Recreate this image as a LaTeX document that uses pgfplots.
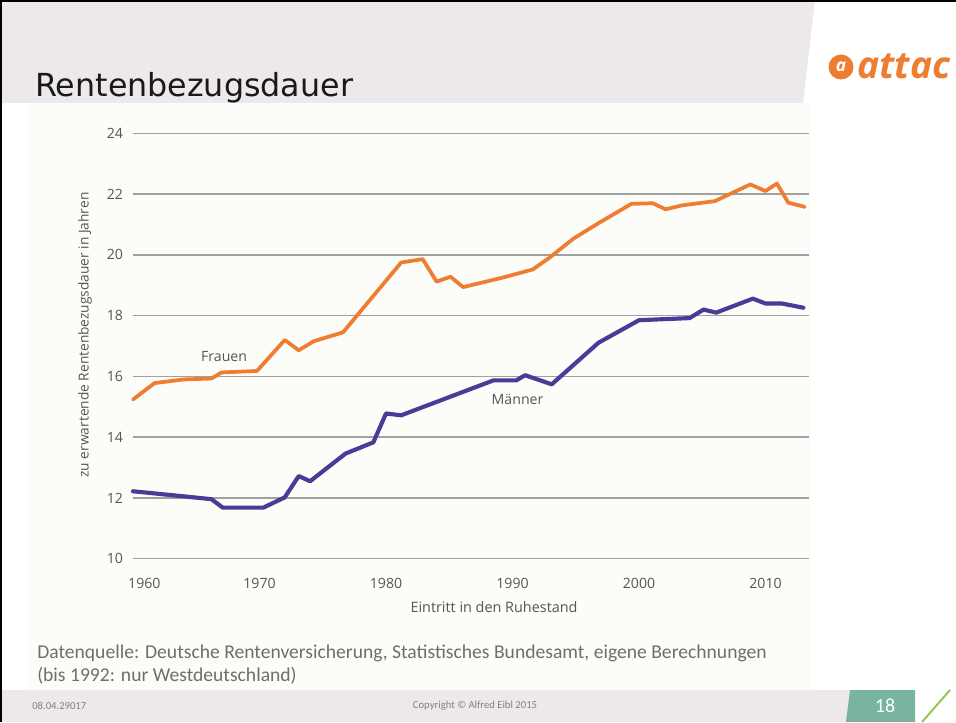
\documentclass[border=0pt]{standalone}
\usepackage{pgfplots}
\pgfplotsset{compat=1.18}
\usepackage{fontspec}
\setmainfont{Open Sans}
\newfontfamily\titlefont{DejaVu Sans}
\newfontfamily\calfont{Carlito}
\definecolor{fr}{RGB}{238,125,49}
\definecolor{ma}{RGB}{76,58,150}
\definecolor{gridc}{RGB}{160,160,160}
\definecolor{band}{RGB}{237,232,235}
\definecolor{chartbg}{RGB}{252,252,249}
\definecolor{txt}{RGB}{85,85,85}
\definecolor{srctxt}{RGB}{110,110,110}
\definecolor{tealc}{RGB}{120,180,160}
\definecolor{greenc}{RGB}{150,200,80}
\begin{document}
\begin{tikzpicture}[x=0.75pt,y=0.75pt]
\clip (0,0) rectangle (956,722);
\fill[white] (0,0) rectangle (956,722);
% top band
\fill[band] (0,722) -- (815,722) -- (803,619) -- (0,619) -- cycle;
% chart background
\fill[chartbg] (28,619) rectangle (810,32);
% footer
\fill[band] (0,0) rectangle (956,32);
\fill[white] (915,0) rectangle (956,32);
\fill[tealc] (850,32) -- (915,32) -- (915,0) -- (846,0) -- cycle;
\draw[greenc, line width=1.5pt] (922,0) -- (950,32);
% border
\draw[black, line width=1.5pt] (1,0) -- (1,721) -- (956,721);
% title
\node[anchor=base west, inner sep=0pt, text={rgb,255:red,25;green,25;blue,25}, font=\titlefont\fontsize{23.8}{27}\selectfont] at (35,625) {Rentenbezugsdauer};
% logo
\fill[fr] (841,655) circle (12.5);
\node[text=white, font=\bfseries\itshape\fontsize{13}{13}\selectfont] at (841,655) {a};
\node[anchor=west, inner sep=0pt, text=fr, font=\bfseries\itshape\fontsize{28}{30}\selectfont] at (857,656) {attac};
% footer texts
\node[anchor=west, inner sep=0pt, text={rgb,255:red,130;green,130;blue,130}, font=\calfont\fontsize{8}{9}\selectfont] at (32,16) {08.04.29017};
\node[inner sep=0pt, text={rgb,255:red,130;green,130;blue,130}, font=\calfont\fontsize{8}{9}\selectfont] at (475,16) {Copyright © Alfred Eibl 2015};
\node[inner sep=0pt, text=white, font=\calfont\fontsize{15}{16}\selectfont] at (885,16) {18};
% source
\node[anchor=base west, inner sep=0pt, text=srctxt, font=\calfont\fontsize{14.7}{16}\selectfont] at (37,64) {Datenquelle: Deutsche Rentenversicherung, Statistisches Bundesamt, eigene Berechnungen};
\node[anchor=base west, inner sep=0pt, text=srctxt, font=\calfont\fontsize{14.7}{16}\selectfont] at (37,41) {(bis 1992: nur Westdeutschland)};
% axis labels
\node[rotate=90, text=txt, font=\fontsize{10.3}{12}\selectfont] at (85,387) {zu erwartende Rentenbezugsdauer in Jahren};
\node[text=txt, font=\fontsize{10.8}{12}\selectfont] at (494,115) {Eintritt in den Ruhestand};
\begin{axis}[
  at={(99.75pt,122.475pt)}, anchor=south west,
  scale only axis, width=507pt, height=319pt,
  xmin=1960, xmax=2013.44, ymin=10, ymax=24,
  axis line style={draw=none}, tick style={draw=none},
  xtick={1960,1970,1980,1990,2000,2010},
  xticklabels={\hspace*{17pt}1960,1970,1980,1990,2000,2010},
  ytick={10,12,14,16,18,20,22,24},
  ymajorgrids, grid style={gridc, line width=1.1pt},
  /pgf/number format/1000 sep={},
  /pgf/number format/assume math mode=true,
  tick label style={text=txt, font=\fontsize{10.6}{12}\selectfont},
  yticklabel style={xshift=-4pt},
  xticklabel style={yshift=-11pt},
  clip=false,
]
\addplot[fr, line width=2.8pt, line join=round, line cap=round] coordinates {
(1960,15.24) (1961.7,15.78) (1964,15.9) (1966.2,15.93) (1967,16.13) (1969.8,16.18) (1972,17.2) (1973.1,16.86) (1974.3,17.16) (1976.6,17.45) (1981.2,19.75) (1982.9,19.86) (1984,19.12) (1985.1,19.28) (1986.1,18.94) (1989.2,19.25) (1991.6,19.52) (1992.9,19.9) (1994.8,20.53) (1996.7,21.02) (1999.4,21.68) (2001.1,21.7) (2002.1,21.5) (2003.4,21.63) (2006,21.77) (2008.8,22.32) (2010,22.1) (2010.9,22.35) (2011.8,21.72) (2013.1,21.58)
};
\addplot[ma, line width=3.1pt, line join=round, line cap=round] coordinates {
(1960,12.22) (1966.2,11.96) (1967.1,11.68) (1970.3,11.68) (1972,12.02) (1973.1,12.72) (1974,12.55) (1976.8,13.46) (1979,13.83) (1980,14.78) (1981.2,14.72) (1988.5,15.87) (1990.3,15.87) (1991,16.04) (1993.1,15.74) (1996.8,17.11) (2000,17.85) (2004,17.92) (2005.1,18.2) (2006.1,18.1) (2009,18.56) (2010,18.4) (2011.3,18.4) (2013,18.26)
};
\node[text=txt, font=\fontsize{10.6}{12}\selectfont] at (axis cs:1967.2,16.66) {Frauen};
\node[text=txt, font=\fontsize{10.6}{12}\selectfont] at (axis cs:1990.4,15.25) {Männer};
\end{axis}
\end{tikzpicture}
\end{document}
